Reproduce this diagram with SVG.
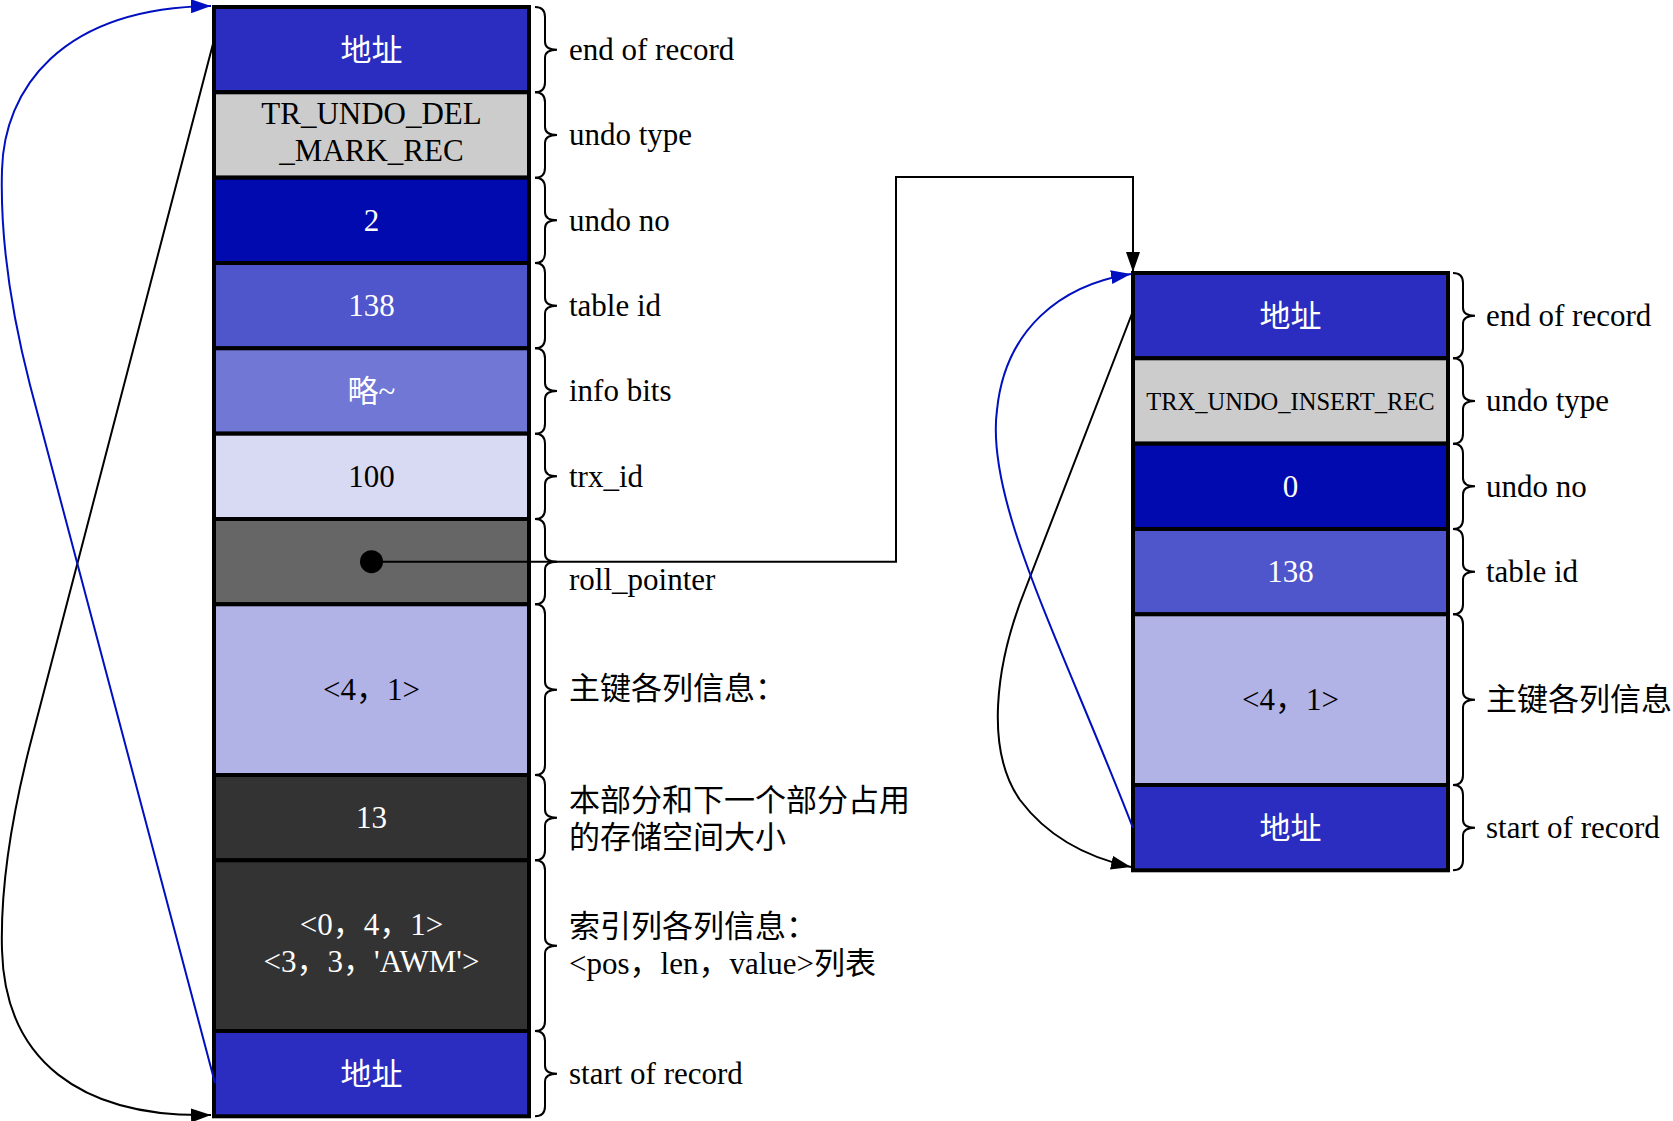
<svg xmlns="http://www.w3.org/2000/svg" width="1673" height="1121" viewBox="0 0 1673 1121">
<style>
.cell{stroke:#000;stroke-width:4}
.t{font-family:"Liberation Serif","Noto Sans CJK SC",serif;font-size:31px;text-anchor:middle}
.w{fill:#fff}
.k{fill:#000}
.lbl{font-family:"Liberation Serif","Noto Sans CJK SC",serif;font-size:31px;fill:#000}
.brace{fill:none;stroke:#000;stroke-width:2}
.conn{fill:none;stroke-width:2}
</style>
<defs>
<marker id="ab" markerUnits="userSpaceOnUse" markerWidth="22" markerHeight="14" refX="20" refY="7" orient="auto"><path d="M0,0 L20,7 L0,14 z" fill="#000"/></marker>
<marker id="au" markerUnits="userSpaceOnUse" markerWidth="22" markerHeight="14" refX="20" refY="7" orient="auto"><path d="M0,0 L20,7 L0,14 z" fill="#0010c0"/></marker>
</defs>
<rect width="1673" height="1121" fill="#fff"/>

<g id="left-record">
<rect class="cell" x="214" y="7" width="315" height="85.3" fill="#2a2dbf"/>
<text class="t w" x="371.5" y="61">地址</text>
<rect class="cell" x="214" y="92.3" width="315" height="85.3" fill="#cccccc"/>
<text class="t k" x="371.5" y="124">TR_UNDO_DEL</text>
<text class="t k" x="371.5" y="161">_MARK_REC</text>
<rect class="cell" x="214" y="177.7" width="315" height="85.3" fill="#000aaf"/>
<text class="t w" x="371.5" y="231">2</text>
<rect class="cell" x="214" y="263" width="315" height="85.3" fill="#4f55cb"/>
<text class="t w" x="371.5" y="316">138</text>
<rect class="cell" x="214" y="348.3" width="315" height="85.3" fill="#7177d4"/>
<text class="t w" x="371.5" y="402">略~</text>
<rect class="cell" x="214" y="433.7" width="315" height="85.3" fill="#d8daf3"/>
<text class="t k" x="371.5" y="487">100</text>
<rect class="cell" x="214" y="519" width="315" height="85.3" fill="#666666"/>
<circle cx="371.5" cy="561.7" r="11.5" fill="#000"/>
<rect class="cell" x="214" y="604.3" width="315" height="170.7" fill="#b1b3e6"/>
<text class="t k" x="371.5" y="700">&lt;4，1&gt;</text>
<rect class="cell" x="214" y="775" width="315" height="85.3" fill="#333333"/>
<text class="t w" x="371.5" y="828">13</text>
<rect class="cell" x="214" y="860.3" width="315" height="170.7" fill="#333333"/>
<text class="t w" x="371.5" y="935">&lt;0，4，1&gt;</text>
<text class="t w" x="371.5" y="972">&lt;3，3，'AWM'&gt;</text>
<rect class="cell" x="214" y="1031" width="315" height="85.3" fill="#2a2dbf"/>
<text class="t w" x="371.5" y="1085">地址</text>
</g>

<g id="left-braces">
<path class="brace" d="M535,7 Q545,7 545,17 L545,41.7 Q545,49.7 557,49.7 Q545,49.7 545,57.7 L545,82.3 Q545,92.3 535,92.3"/>
<path class="brace" d="M535,92.3 Q545,92.3 545,102.3 L545,127 Q545,135 557,135 Q545,135 545,143 L545,167.7 Q545,177.7 535,177.7"/>
<path class="brace" d="M535,177.7 Q545,177.7 545,187.7 L545,212.3 Q545,220.3 557,220.3 Q545,220.3 545,228.3 L545,253 Q545,263 535,263"/>
<path class="brace" d="M535,263 Q545,263 545,273 L545,297.7 Q545,305.7 557,305.7 Q545,305.7 545,313.7 L545,338.3 Q545,348.3 535,348.3"/>
<path class="brace" d="M535,348.3 Q545,348.3 545,358.3 L545,383 Q545,391 557,391 Q545,391 545,399 L545,423.7 Q545,433.7 535,433.7"/>
<path class="brace" d="M535,433.7 Q545,433.7 545,443.7 L545,468.3 Q545,476.3 557,476.3 Q545,476.3 545,484.3 L545,509 Q545,519 535,519"/>
<path class="brace" d="M535,519 Q545,519 545,529 L545,553.7 Q545,561.7 557,561.7 Q545,561.7 545,569.7 L545,594.3 Q545,604.3 535,604.3"/>
<path class="brace" d="M535,604.3 Q545,604.3 545,614.3 L545,681.7 Q545,689.7 557,689.7 Q545,689.7 545,697.7 L545,765 Q545,775 535,775"/>
<path class="brace" d="M535,775 Q545,775 545,785 L545,809.7 Q545,817.7 557,817.7 Q545,817.7 545,825.7 L545,850.3 Q545,860.3 535,860.3"/>
<path class="brace" d="M535,860.3 Q545,860.3 545,870.3 L545,937.7 Q545,945.7 557,945.7 Q545,945.7 545,953.7 L545,1021 Q545,1031 535,1031"/>
<path class="brace" d="M535,1031 Q545,1031 545,1041 L545,1065.7 Q545,1073.7 557,1073.7 Q545,1073.7 545,1081.7 L545,1106.3 Q545,1116.3 535,1116.3"/>
</g>

<g id="left-labels">
<text class="lbl" x="569" y="60">end of record</text>
<text class="lbl" x="569" y="145">undo type</text>
<text class="lbl" x="569" y="231">undo no</text>
<text class="lbl" x="569" y="316">table id</text>
<text class="lbl" x="569" y="401">info bits</text>
<text class="lbl" x="569" y="487">trx_id</text>
<text class="lbl" x="569" y="590">roll_pointer</text>
<text class="lbl" x="569" y="699">主键各列信息：</text>
<text class="lbl" x="569" y="811">本部分和下一个部分占用</text>
<text class="lbl" x="569" y="848">的存储空间大小</text>
<text class="lbl" x="569" y="937">索引列各列信息：</text>
<text class="lbl" x="569" y="974">&lt;pos，len，value&gt;列表</text>
<text class="lbl" x="569" y="1084">start of record</text>
</g>

<g id="right-record">
<rect class="cell" x="1133" y="273" width="315" height="85.3" fill="#2a2dbf"/>
<text class="t w" x="1290.5" y="327">地址</text>
<rect class="cell" x="1133" y="358.3" width="315" height="85.3" fill="#cccccc"/>
<text class="t k" x="1290.5" y="410" style="font-size:24.5px">TRX_UNDO_INSERT_REC</text>
<rect class="cell" x="1133" y="443.7" width="315" height="85.3" fill="#000aaf"/>
<text class="t w" x="1290.5" y="497">0</text>
<rect class="cell" x="1133" y="529" width="315" height="85.3" fill="#4f55cb"/>
<text class="t w" x="1290.5" y="582">138</text>
<rect class="cell" x="1133" y="614.3" width="315" height="170.7" fill="#b1b3e6"/>
<text class="t k" x="1290.5" y="710">&lt;4，1&gt;</text>
<rect class="cell" x="1133" y="785" width="315" height="85.3" fill="#2a2dbf"/>
<text class="t w" x="1290.5" y="839">地址</text>
</g>

<g id="right-braces">
<path class="brace" d="M1453,273 Q1463,273 1463,283 L1463,307.7 Q1463,315.7 1475,315.7 Q1463,315.7 1463,323.7 L1463,348.3 Q1463,358.3 1453,358.3"/>
<path class="brace" d="M1453,358.3 Q1463,358.3 1463,368.3 L1463,393 Q1463,401 1475,401 Q1463,401 1463,409 L1463,433.7 Q1463,443.7 1453,443.7"/>
<path class="brace" d="M1453,443.7 Q1463,443.7 1463,453.7 L1463,478.3 Q1463,486.3 1475,486.3 Q1463,486.3 1463,494.3 L1463,519 Q1463,529 1453,529"/>
<path class="brace" d="M1453,529 Q1463,529 1463,539 L1463,563.7 Q1463,571.7 1475,571.7 Q1463,571.7 1463,579.7 L1463,604.3 Q1463,614.3 1453,614.3"/>
<path class="brace" d="M1453,614.3 Q1463,614.3 1463,624.3 L1463,691.7 Q1463,699.7 1475,699.7 Q1463,699.7 1463,707.7 L1463,775 Q1463,785 1453,785"/>
<path class="brace" d="M1453,785 Q1463,785 1463,795 L1463,819.7 Q1463,827.7 1475,827.7 Q1463,827.7 1463,835.7 L1463,860.3 Q1463,870.3 1453,870.3"/>
</g>

<g id="right-labels">
<text class="lbl" x="1486" y="326">end of record</text>
<text class="lbl" x="1486" y="411">undo type</text>
<text class="lbl" x="1486" y="497">undo no</text>
<text class="lbl" x="1486" y="582">table id</text>
<text class="lbl" x="1486" y="710">主键各列信息</text>
<text class="lbl" x="1486" y="838">start of record</text>
</g>

<g id="connectors">
<path class="conn" stroke="#000" d="M371.5,561.7 L896,561.7 L896,177 L1133,177 L1133,272" marker-end="url(#ab)"/>
<path class="conn" stroke="#000" d="M214,40 L30,745 C16,800 0,880 2,950 C5,1060 80,1118 211,1115" marker-end="url(#ab)"/>
<path class="conn" stroke="#0010c0" d="M215,1083 L30,385 C12,315 0,240 2,170 C4,90 60,8 211,6" marker-end="url(#au)"/>
<path class="conn" stroke="#000" d="M1133,311 L1025,590 C995,665 985,750 1020,800 C1050,840 1090,858 1131,867" marker-end="url(#ab)"/>
<path class="conn" stroke="#0010c0" d="M1133,828 C1060,640 985,500 997,410 C1005,330 1060,285 1131,274" marker-end="url(#au)"/>
</g>
</svg>
